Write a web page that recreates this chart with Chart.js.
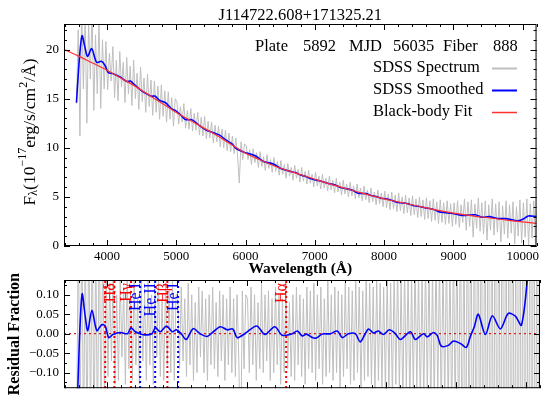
<!DOCTYPE html>
<html>
<head>
<meta charset="utf-8">
<script src="https://cdn.jsdelivr.net/npm/chart.js@4.4.1/dist/chart.umd.min.js"></script>
<style>
  html, body { margin: 0; padding: 0; background: #fff; }
  #wrap { position: relative; width: 542px; height: 401px; }
  canvas { position: absolute; left: 0; top: 0; }
</style>
</head>
<body>
<div id="wrap">
  <canvas id="spec" width="542" height="401"></canvas>
  <canvas id="resid" width="542" height="401"></canvas>
</div>
<script>
// ---- data ----
const objName = "J114722.608+171325.21";
const plate = 5892, mjd = 56035, fiber = 888;

// observed spectrum, sampled every 25 A from 3560 A
const specStart = 3560, specStep = 25;
const specFlux = [
  14.5, 22.0, 11.2, 24.5, 16.0, 23.5, 12.5, 22.8, 17.0, 24.0, 13.8, 21.5, 15.5, 23.0, 14.0, 21.0, 16.0,
  20.8, 15.9, 19.6, 16.8, 20.3, 15.1, 18.9, 14.8, 19.8, 16.2, 18.7, 14.6, 19.2, 15.5, 18.3, 14.3, 18.9, 15.0, 17.6, 13.9,
  18.2, 14.7, 17.1, 13.6, 17.5, 14.2, 16.9, 13.3, 16.8, 13.6, 16.3, 12.9, 16.4, 13.2, 15.8, 12.6, 15.7, 12.9, 15.1, 12.2, 15.0,
  14.7, 12.4, 14.2, 12.6, 14.5, 12.0, 13.8, 11.9, 14.0, 11.7, 13.5, 11.8, 13.6, 11.3, 13.1, 11.2, 13.2, 10.9, 12.7, 11.0,
  12.6, 10.5, 12.3, 10.6, 12.2, 10.1, 11.9, 10.0, 11.8, 9.7, 11.5, 9.6, 11.2, 9.4, 11.0, 9.2, 6.4, 10.6, 8.8, 10.4,
  10.2, 8.8, 9.8, 8.3, 9.9, 8.5, 9.5, 8.0, 9.6, 8.1, 9.1, 7.7, 9.3, 7.9, 8.8, 7.5, 9.0, 7.6, 8.6, 7.2,
  8.7, 7.3, 8.3, 6.9, 8.4, 7.1, 8.0, 6.7, 8.2, 6.9, 7.8, 6.5, 8.0, 6.6, 7.6, 6.3, 7.7, 6.4, 7.3, 6.0,
  7.5, 6.1, 7.1, 5.8, 7.3, 5.9, 6.9, 5.6, 7.1, 5.7, 6.7, 5.4, 6.9, 5.5, 6.5, 5.2, 6.7, 5.3, 6.3, 5.0,
  6.5, 5.1, 6.1, 4.8, 6.3, 4.9, 5.9, 4.6, 6.1, 4.7, 5.7, 4.4, 5.9, 4.5, 5.5, 4.2, 5.7, 4.3, 5.4, 4.0,
  5.6, 3.9, 5.3, 3.7, 5.5, 3.8, 5.2, 3.5, 5.4, 3.6, 5.0, 3.3, 5.2, 3.4, 4.9, 3.1, 5.1, 3.2, 4.8, 2.9,
  5.0, 3.0, 4.7, 2.7, 4.9, 2.8, 4.6, 2.5, 4.8, 2.6, 4.5, 2.3, 4.7, 2.4, 4.4, 2.2, 4.6, 2.3, 4.3, 2.0,
  4.4, 2.2, 4.6, 1.9, 4.2, 2.4, 4.8, 1.6, 4.5, 2.0, 4.7, 0.9, 4.3, 1.8, 4.9, 1.5, 4.4, 1.2, 4.6, 0.6,
  4.2, 1.6, 4.8, 1.1, 4.3, 1.4, 4.5, 0.4, 4.1, 1.2, 4.6, 0.8, 4.2, 1.3, 4.5, 0.2, 4.0, 1.0, 4.7, 0.3,
  4.4, 0.9, 4.8, 0.1, 4.3, 0.8, 4.6, 0.2, 4.2
];
const residFlux = [
  -0.3, 0.3, -0.28, 0.32, -0.3, 0.26, -0.31, 0.3, -0.25, 0.29, -0.3, 0.24, -0.27, 0.3, -0.22, 0.25, -0.18,
  0.16, -0.11, 0.13, -0.07, 0.17, -0.13, 0.1, -0.12, 0.15, -0.06, 0.12, -0.13, 0.16, -0.09, 0.11, -0.12, 0.15, -0.08, 0.09, -0.13,
  0.14, -0.07, 0.11, -0.12, 0.15, -0.08, 0.1, -0.13, 0.12, -0.06, 0.14, -0.11, 0.09, -0.12, 0.13, -0.08, 0.11, -0.1, 0.14, -0.12, 0.1,
  0.1, -0.09, 0.12, -0.07, 0.09, -0.11, 0.13, -0.08, 0.1, -0.12, 0.08, -0.1, 0.12, -0.06, 0.11, -0.1, 0.09, -0.12, 0.1, -0.08,
  0.12, -0.09, 0.08, -0.11, 0.11, -0.07, 0.1, -0.12, 0.09, -0.08, 0.12, -0.1, 0.09, -0.11, 0.1, -0.07, -0.35, 0.11, -0.09, 0.1,
  0.09, -0.1, 0.12, -0.08, 0.1, -0.12, 0.08, -0.09, 0.13, -0.1, 0.1, -0.07, 0.11, -0.12, 0.09, -0.1, 0.12, -0.08, 0.1, -0.13,
  0.09, -0.1, 0.13, -0.09, 0.08, -0.11, 0.1, -0.12, 0.12, -0.08, 0.1, -0.11, 0.09, -0.13, 0.12, -0.09, 0.11, -0.1, 0.13, -0.12,
  0.1, -0.09, 0.12, -0.13, 0.09, -0.11, 0.14, -0.1, 0.1, -0.12, 0.12, -0.1, 0.11, -0.14, 0.1, -0.11, 0.13, -0.09, 0.12, -0.13,
  0.11, -0.12, 0.14, -0.1, 0.12, -0.14, 0.11, -0.12, 0.15, -0.11, 0.13, -0.13, 0.12, -0.15, 0.14, -0.12, 0.13, -0.14, 0.12, -0.15,
  0.15, -0.14, 0.13, -0.17, 0.16, -0.13, 0.18, -0.15, 0.14, -0.18, 0.17, -0.14, 0.16, -0.19, 0.15, -0.16, 0.19, -0.15, 0.17, -0.2,
  0.16, -0.18, 0.2, -0.16, 0.18, -0.2, 0.17, -0.19, 0.21, -0.17, 0.19, -0.22, 0.2, -0.18, 0.22, -0.21, 0.2, -0.24, 0.25, -0.22,
  0.3, -0.35, 0.4, -0.45, 0.35, -0.5, 0.45, -0.4, 0.5, -0.6, 0.45, -0.55, 0.6, -0.5, 0.55, -0.7, 0.6, -0.6, 0.7, -0.8,
  0.6, -0.7, 0.75, -0.85, 0.7, -0.8, 0.8, -0.9, 0.75, -0.85, 0.9, -0.95, 0.8, -0.9, 0.95, -1.0, 0.9, -0.95, 1.0, -1.0,
  0.9, -1.0, 1.0, -0.9, 1.0, -1.0, 0.95, -1.0, 1.0
];

// smoothed spectrum and its residual
const smoothWave = [3560, 3600, 3640, 3680, 3720, 3780, 3850, 3920, 3970, 4020, 4080, 4190, 4290, 4340, 4400, 4470,
  4540, 4640, 4690, 4760, 4850, 4930, 4990, 5060, 5130, 5230, 5330, 5430, 5520, 5620, 5720, 5800, 5860, 5970,
  6140, 6260, 6400, 6508, 6650, 6723, 6794, 6852, 6938, 6995, 7081, 7196, 7296, 7368, 7454, 7554, 7625, 7740,
  7812, 7883, 7955, 8041, 8127, 8199, 8342, 8414, 8529, 8586, 8672, 8729, 8786, 8887, 8958, 9059, 9144, 9202,
  9259, 9316, 9417, 9517, 9632, 9746, 9847, 9933, 10019, 10080, 10200];
const smoothFlux = [14.6, 18.9, 21.4, 20.3, 19.3, 20.1, 18.7, 18.8, 18.4, 17.65, 17.55, 17.2, 16.74, 16.8, 16.4, 15.98,
  15.62, 15.24, 15.27, 14.83, 14.56, 13.99, 13.78, 13.36, 12.88, 12.84, 12.28, 11.8, 11.58, 11.31, 10.77, 10.42, 9.95, 9.58,
  9.18, 8.6, 8.35, 7.9, 7.59, 7.47, 7.22, 7.12, 6.87, 6.74, 6.61, 6.36, 6.2, 5.95, 5.84, 5.64, 5.38, 5.33,
  5.14, 5.03, 4.87, 4.79, 4.61, 4.43, 4.31, 4.12, 4.0, 3.89, 3.8, 3.69, 3.5, 3.39, 3.34, 3.21, 3.1, 3.13,
  3.15, 3.18, 2.93, 2.99, 2.8, 2.79, 2.68, 2.56, 2.78, 3.06, 3.0];
const smoothResid = [-0.25, -0.02, 0.102, 0.05, 0.008, 0.06, 0.008, 0.023, 0.02, -0.01, -0.002, 0.003, 0.0, 0.015, 0.005, 0.0,
  -0.003, 0.0, 0.015, 0.005, 0.02, 0.005, 0.01, 0.0, -0.015, 0.013, 0.0, -0.007, 0.005, 0.018, 0.01, 0.012, -0.01, 0.0,
  0.02, -0.002, 0.018, -0.004, 0.0, 0.007, -0.006, -0.001, -0.01, -0.011, -0.001, 0.0, 0.007, -0.01, 0.0, 0.0, -0.021, 0.012,
  0.002, 0.007, -0.002, 0.01, 0.0, -0.015, 0.005, -0.015, 0.0, -0.008, 0.003, -0.005, -0.032, -0.03, -0.019, -0.025, -0.035, -0.007,
  0.018, 0.05, -0.002, 0.046, 0.0125, 0.052, 0.045, 0.022, 0.14, 0.28, 0.3];

// black-body fit
const fitWave = [3380, 3600, 3800, 4000, 4200, 4400, 4600, 4800, 5000, 5200, 5400, 5600, 5800, 6000, 6200, 6400, 6600,
  6800, 7000, 7200, 7400, 7600, 7800, 8000, 8200, 8400, 8600, 8800, 9000, 9200, 9400, 9600, 9800, 10000, 10200];
const fitFlux = [20.0, 19.3, 18.6, 17.9, 17.1, 16.3, 15.4, 14.5, 13.6, 12.8, 12.0, 11.2, 10.3, 9.45, 8.8, 8.2, 7.7,
  7.25, 6.8, 6.35, 5.95, 5.55, 5.15, 4.8, 4.5, 4.2, 3.9, 3.6, 3.35, 3.15, 2.95, 2.8, 2.6, 2.45, 2.3];

// line markers
const lineWave = [3970, 4102, 4341, 4471, 4686, 4861, 5015, 6563];
const lineName = ["", "Hδ", "Hγ", "He I", "He II", "Hβ", "He I", "Hα"];
const lineColor = ["#ff0000", "#ff0000", "#ff0000", "#0000ff", "#0000ff", "#ff0000", "#0000ff", "#ff0000"];

const xTicks = [4000, 5000, 6000, 7000, 8000, 9000, 10000];
const yTicks = [0, 5, 10, 15, 20];
const rTicks = [-0.1, -0.05, 0, 0.05, 0.1];

const SERIF = '"Liberation Serif", "Times New Roman", serif';
const GRAY = "#bfbfbf";

const specWave = specFlux.map((_, i) => specStart + i * specStep);
const pts = (xs, ys) => xs.map((x, i) => ({x: x, y: ys[i]}));

// ---- drawing helpers ----
function richText(ctx, parts, x, y) {
  // parts: [text, size, dy]; drawn centered at x
  let w = 0;
  parts.forEach(p => { ctx.font = p[1] + "px " + SERIF; w += ctx.measureText(p[0]).width; });
  let cx = x - w / 2;
  parts.forEach(p => {
    ctx.font = p[1] + "px " + SERIF;
    ctx.fillText(p[0], cx, y + (p[2] || 0));
    cx += ctx.measureText(p[0]).width;
  });
}

function frameTicks(chart, xMinor, yMinor) {
  const {ctx, chartArea: a, scales: {x, y}} = chart;
  ctx.save();
  ctx.strokeStyle = "#000";
  ctx.lineWidth = 1;
  ctx.beginPath();
  const seg = (x0, y0, x1, y1) => { ctx.moveTo(x0, y0); ctx.lineTo(x1, y1); };
  const vx = (v, len) => {
    const p = Math.round(x.getPixelForValue(v)) + 0.5;
    seg(p, a.bottom, p, a.bottom - len); seg(p, a.top, p, a.top + len);
  };
  const hy = (v, len) => {
    const p = Math.round(y.getPixelForValue(v)) + 0.5;
    seg(a.left, p, a.left + len, p); seg(a.right, p, a.right - len, p);
  };
  for (let v = Math.ceil(x.min / xMinor) * xMinor; v <= x.max; v += xMinor) vx(v, 3);
  for (let k = Math.ceil(y.min / yMinor - 1e-6); k * yMinor <= y.max + 1e-9; k++) hy(k * yMinor, 3);
  x.ticks.forEach(t => vx(t.value, 6));
  y.ticks.forEach(t => hy(t.value, 6));
  ctx.stroke();
  ctx.strokeRect(a.left + 0.5, a.top + 0.5, a.right - a.left - 1, a.bottom - a.top - 1);
  ctx.restore();
}

const specDecor = {
  id: "specDecor",
  afterDraw(chart) {
    const {ctx, chartArea: a} = chart;
    frameTicks(chart, 200, 1);
    ctx.save();
    ctx.fillStyle = "#000";
    ctx.textBaseline = "middle";
    ctx.textAlign = "center";
    ctx.font = "16.5px " + SERIF;
    ctx.fillText(objName, (a.left + a.right) / 2, 15.5);

    // plate / mjd / fiber line
    ctx.textAlign = "left";
    const info = [["Plate", 191], [String(plate), 239], ["MJD", 285], [String(mjd), 329], ["Fiber", 379], [String(fiber), 429]];
    info.forEach(p => ctx.fillText(p[0], a.left + p[1], a.top + 23));

    // legend
    const ds = chart.data.datasets;
    [0, 1, 2].forEach((i, k) => {
      const yy = a.top + 44 + k * 22;
      ctx.fillStyle = "#000";
      ctx.fillText(ds[i].label, a.left + 309, yy);
      ctx.strokeStyle = ds[i].borderColor;
      ctx.lineWidth = i === 2 ? 1.5 : 2;
      ctx.beginPath();
      ctx.moveTo(a.left + 428, yy + 0.5);
      ctx.lineTo(a.left + 453, yy + 0.5);
      ctx.stroke();
    });

    // axis titles
    ctx.fillStyle = "#000";
    ctx.textAlign = "center";
    ctx.font = "bold 15.5px " + SERIF;
    ctx.fillText("Wavelength (Å)", (a.left + a.right) / 2, 269);

    ctx.translate(30, (a.top + a.bottom) / 2 - 3);
    ctx.rotate(-Math.PI / 2);
    ctx.textAlign = "left";
    richText(ctx, [["F", 17.5], ["λ", 12, 4], ["(10", 17.5], ["−17", 12, -7], ["erg/s/cm", 17.5], ["2", 12, -6], ["/Å)", 17.5]], 0, 0);
    ctx.restore();
  }
};

const residDecor = {
  id: "residDecor",
  afterDatasetsDraw(chart) {
    const {ctx, scales: {x, y}} = chart;
    ctx.save();
    ctx.textAlign = "right";
    ctx.textBaseline = "middle";
    ctx.font = "16px " + SERIF;
    lineWave.forEach((w, i) => {
      if (!lineName[i]) return;
      ctx.save();
      ctx.translate(x.getPixelForValue(w) - 4, y.getPixelForValue(0.13));
      ctx.rotate(-Math.PI / 2);
      ctx.fillStyle = lineColor[i];
      ctx.fillText(lineName[i], 0, 0);
      ctx.restore();
    });
    ctx.restore();
  },
  afterDraw(chart) {
    const {ctx, chartArea: a} = chart;
    frameTicks(chart, 200, 0.025);
    ctx.save();
    ctx.fillStyle = "#000";
    ctx.textAlign = "center";
    ctx.textBaseline = "middle";
    ctx.font = "bold 16px " + SERIF;
    ctx.translate(15, (a.top + a.bottom) / 2);
    ctx.rotate(-Math.PI / 2);
    ctx.fillText("Residual Fraction", 0, 0);
    ctx.restore();
  }
};

const tickFont = {family: SERIF, size: 13};
const xScale = (showLabels, height) => ({
  type: "linear", min: 3380, max: 10200,
  grid: {display: false, drawTicks: false}, border: {display: false},
  afterBuildTicks: s => { s.ticks = xTicks.map(v => ({value: v})); },
  afterFit: s => { s.height = height; },
  ticks: {display: showLabels, color: "#000", font: tickFont, padding: 3, maxRotation: 0, autoSkip: false,
    callback: v => String(v)}
});

const common = {
  responsive: false, animation: false, devicePixelRatio: 1, events: [],
  plugins: {legend: {display: false}, tooltip: {enabled: false}, title: {display: false}},
  elements: {point: {radius: 0}}
};

new Chart(document.getElementById("spec"), {
  type: "line",
  data: {
    datasets: [
      {label: "SDSS Spectrum", data: pts(specWave, specFlux), borderColor: GRAY, borderWidth: 1, tension: 0, order: 2, clip: 0},
      {label: "SDSS Smoothed", data: pts(smoothWave, smoothFlux), borderColor: "#0000ff", borderWidth: 1.6, tension: 0.3, order: 1, clip: 0},
      {label: "Black-body Fit", data: pts(fitWave, fitFlux), borderColor: "#ff3030", borderWidth: 1.2, tension: 0.4, order: 0, clip: 0}
    ]
  },
  options: Object.assign({}, common, {
    layout: {padding: {top: 24, right: 2, left: 0, bottom: 0}},
    scales: {
      x: xScale(true, 155),
      y: {
        type: "linear", min: 0, max: 22.6,
        grid: {display: false, drawTicks: false}, border: {display: false},
        afterBuildTicks: s => { s.ticks = yTicks.map(v => ({value: v})); },
        afterFit: s => { s.width = 64; },
        ticks: {color: "#000", font: tickFont, padding: 5, callback: v => String(v)}
      }
    }
  }),
  plugins: [specDecor]
});

const markerSets = lineWave.map((w, i) => ({
  data: [{x: w, y: -1}, {x: w, y: 1}], borderColor: lineColor[i], borderWidth: 2,
  borderDash: [2, 3], order: 2, clip: 0
}));

new Chart(document.getElementById("resid"), {
  type: "line",
  data: {
    datasets: [
      {data: pts(specWave, residFlux), borderColor: GRAY, borderWidth: 1, tension: 0, order: 5, clip: 0},
      {data: [{x: 3380, y: 0}, {x: 10200, y: 0}], borderColor: "#d62020", borderWidth: 1.3, borderDash: [2, 3], order: 3, clip: 0}
    ].concat(markerSets, [
      {data: pts(smoothWave, smoothResid), borderColor: "#0000ff", borderWidth: 1.6, tension: 0.3, order: 0, clip: 0}
    ])
  },
  options: Object.assign({}, common, {
    layout: {padding: {top: 280, right: 2, left: 0, bottom: 0}},
    scales: {
      x: xScale(false, 10),
      y: {
        type: "linear", min: -0.14, max: 0.138,
        grid: {display: false, drawTicks: false}, border: {display: false},
        afterBuildTicks: s => { s.ticks = rTicks.map(v => ({value: v})); },
        afterFit: s => { s.width = 64; },
        ticks: {color: "#000", font: tickFont, padding: 5,
          callback: v => (v < 0 ? "−" : "") + Math.abs(v).toFixed(2)}
      }
    }
  }),
  plugins: [residDecor]
});
</script>
</body>
</html>
